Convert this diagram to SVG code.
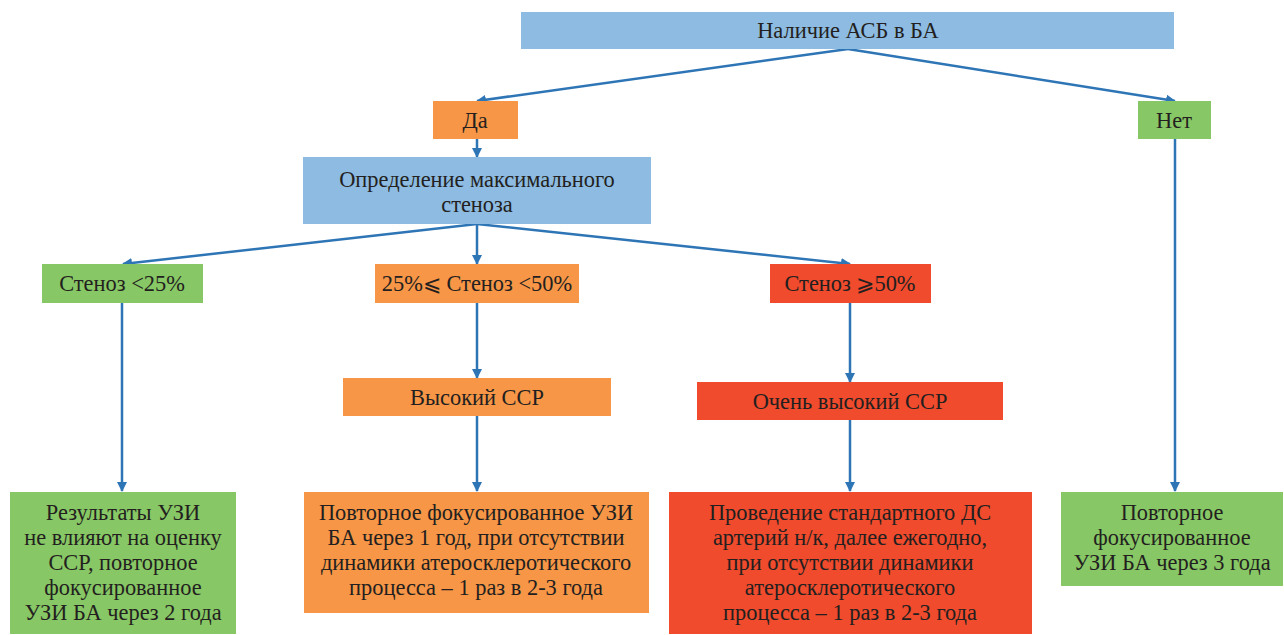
<svg xmlns="http://www.w3.org/2000/svg" width="1284" height="635" viewBox="0 0 1284 635">
<style>
text{font-family:"Liberation Serif","Times New Roman",serif;font-size:22.4px;fill:#231f20;text-anchor:middle}
.blue{fill:#8DBBE2}.orange{fill:#F79646}.green{fill:#88C765}.red{fill:#EF4B2C}
.c{stroke:#2E75B6;stroke-width:2.5;fill:none;marker-end:url(#ah)}
</style>
<defs>
<marker id="ah" viewBox="0 0 10 10" refX="9" refY="5" markerWidth="4" markerHeight="4" orient="auto" markerUnits="strokeWidth">
<path d="M0,0 L10,5 L0,10 z" fill="#2E75B6"/>
</marker>
</defs>
<rect width="1284" height="635" fill="#fff"/>
<g id="connectors">
<path class="c" d="M848,49 L477,101"/>
<path class="c" d="M848,49 L1175,101"/>
<path class="c" d="M477,139 L477,157"/>
<path class="c" d="M477,224 L123,264"/>
<path class="c" d="M477,224 L477,264"/>
<path class="c" d="M477,224 L850,264"/>
<path class="c" d="M122,303 L122,491"/>
<path class="c" d="M477,303 L477,378"/>
<path class="c" d="M477,416 L477,491"/>
<path class="c" d="M850,303 L850,382"/>
<path class="c" d="M850,420 L850,491"/>
<path class="c" d="M1175,139 L1175,491"/>
</g>
<g id="n-top"><rect class="blue" x="521" y="12" width="653" height="37"/><text x="848" y="38">Наличие АСБ в БА</text></g>
<g id="n-da"><rect class="orange" x="433" y="101" width="85" height="38"/><text x="475" y="128">Да</text></g>
<g id="n-net"><rect class="green" x="1138" y="101" width="73" height="38"/><text x="1174" y="128">Нет</text></g>
<g id="n-opr"><rect class="blue" x="303" y="157" width="348" height="67"/><text x="477" y="187">Определение максимального</text><text x="477" y="212">стеноза</text></g>
<g id="n-s25"><rect class="green" x="42" y="264" width="161" height="39"/><text x="122" y="291">Стеноз &lt;25%</text></g>
<g id="n-s2550"><rect class="orange" x="375" y="264" width="204" height="39"/><text x="477" y="291">25%⩽ Стеноз &lt;50%</text></g>
<g id="n-s50"><rect class="red" x="770" y="264" width="161" height="39"/><text x="850" y="291">Стеноз ⩾50%</text></g>
<g id="n-high"><rect class="orange" x="343" y="378" width="268" height="38"/><text x="477" y="405">Высокий ССР</text></g>
<g id="n-vhigh"><rect class="red" x="697" y="382" width="306" height="38"/><text x="850" y="409">Очень высокий ССР</text></g>
<g id="n-b1"><rect class="green" x="10" y="492" width="226" height="142"/>
<text x="123" y="520">Результаты УЗИ</text><text x="123" y="545">не влияют на оценку</text><text x="123" y="570">ССР, повторное</text><text x="123" y="595">фокусированное</text><text x="123" y="620">УЗИ БА через 2 года</text></g>
<g id="n-b2"><rect class="orange" x="304" y="492" width="345" height="121"/>
<text x="476" y="520">Повторное фокусированное УЗИ</text><text x="476" y="545">БА через 1 год, при отсутствии</text><text x="476" y="570">динамики атеросклеротического</text><text x="476" y="595">процесса – 1 раз в 2-3 года</text></g>
<g id="n-b3"><rect class="red" x="669" y="492" width="363" height="142"/>
<text x="850" y="520">Проведение стандартного ДС</text><text x="850" y="545">артерий н/к, далее ежегодно,</text><text x="850" y="570">при отсутствии динамики</text><text x="850" y="595">атеросклеротического</text><text x="850" y="620">процесса – 1 раз в 2-3 года</text></g>
<g id="n-b4"><rect class="green" x="1061" y="492" width="222" height="94"/>
<text x="1172" y="520">Повторное</text><text x="1172" y="545">фокусированное</text><text x="1172" y="570">УЗИ БА через 3 года</text></g>
</svg>
